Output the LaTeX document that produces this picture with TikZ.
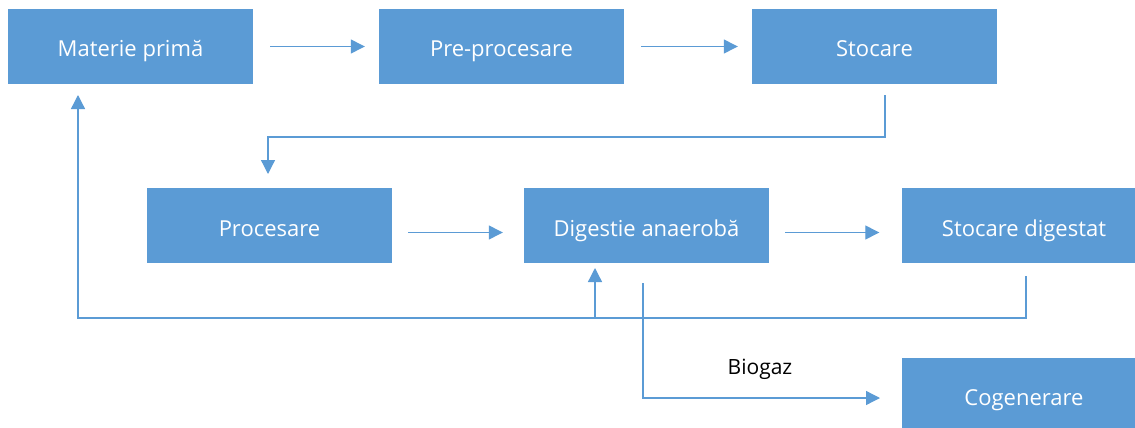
\documentclass[tikz,border=0pt]{standalone}
\usepackage{fontspec}
\setmainfont{Open Sans}
\usetikzlibrary{arrows.meta}
\definecolor{boxblue}{HTML}{5B9BD5}
\tikzset{
  box/.style={fill=boxblue, draw=none, minimum width=245pt, minimum height=75pt, inner sep=0pt,
    text=white, font=\fontsize{22}{26}\selectfont, text height=21pt, text depth=0pt},
  conn/.style={draw=boxblue, line width=1.3pt, -{Triangle[length=14pt,width=14pt]}},
  line/.style={draw=boxblue, line width=1.3pt}
}
\begin{document}
\begin{tikzpicture}[x=1pt,y=-1pt]
\clip (0,0) rectangle (1135,428);
\useasboundingbox (0,0) rectangle (1135,428);
\node[box] (mp) at (130.5,46.5) {Materie primă};
\node[box] (pp) at (501.5,46.5) {Pre-procesare};
\node[box] (st) at (874.5,46.5) {Stocare};
\node[box] (pr) at (269.5,225.5) {Procesare};
\node[box] (da) at (646.5,225.5) {Digestie anaerobă};
\node[box] (sd) at (1024,225.5) {Stocare digestat};
\node[box] (co) at (1024,395) {Cogenerare};

\draw[conn] ([xshift=17pt]mp.east) -- ([xshift=-14pt]pp.west);
\draw[conn] ([xshift=17pt]pp.east) -- ([xshift=-14pt]st.west);
\draw[conn] ([xshift=16pt,yshift=-7pt]pr.east) -- ([xshift=-21pt,yshift=-7pt]da.west);
\draw[conn] ([xshift=16pt,yshift=-7pt]da.east) -- ([xshift=-22pt,yshift=-7pt]sd.west);

\coordinate (a1) at (885,95);
\coordinate (a2) at (885,137);
\coordinate (a3) at (268,137);
\coordinate (a4) at (268,174);
\draw[conn] (a1) -- (a2) -- (a3) -- (a4);

\coordinate (f1) at (1026,276);
\coordinate (f2) at (1026,318);
\coordinate (f3) at (78,318);
\coordinate (f4) at (78,95);
\draw[conn] (f1) -- (f2) -- (f3) -- (f4);

\coordinate (g1) at (595,318);
\coordinate (g2) at (595,268);
\draw[conn] (g1) -- (g2);

\coordinate (b1) at (643,283);
\coordinate (b2) at (643,398);
\coordinate (b3) at (880,398);
\draw[conn] (b1) -- (b2) -- (b3);
\node[font=\fontsize{21}{24}\selectfont, text=black, anchor=base] (bl) at (760,374) {Biogaz};
\end{tikzpicture}
\end{document}
